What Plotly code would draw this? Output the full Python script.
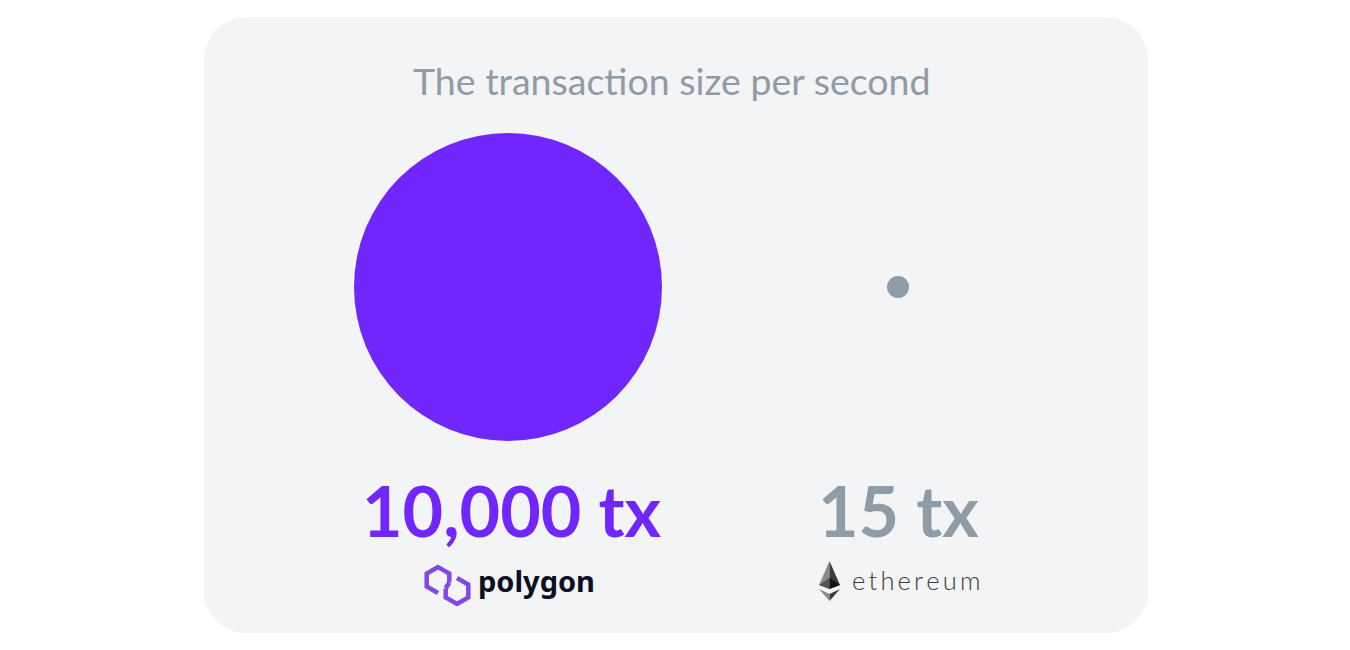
import plotly.graph_objects as go
import math

# ---- data ----
chains = ["Polygon", "Ethereum"]
tx_per_second = [10000, 15]
title_text = "The transaction size per second"
brand_words = ["polygon", "ethereum"]

# ---- styles ----
colors = ["#7026fc", "#8f9ba5"]
marker_px = [308, 22]
label_xshift = [3, 0]
CARD = "#f3f4f6"
W, H = 1350, 650

fig = go.Figure()

# dummy trace to activate pixel-unit axes (drawn first, underneath)
fig.add_trace(go.Scatter(x=[0], y=[0], mode="markers", marker=dict(opacity=0),
                         hoverinfo="skip", showlegend=False, xaxis="x", yaxis="y"))

# Main data trace (categorical axis)
fig.add_trace(go.Scatter(
    x=chains, y=[0, 0], mode="markers",
    marker=dict(size=marker_px, color=colors, line=dict(width=0), opacity=1),
    hoverinfo="skip", showlegend=False, xaxis="x2", yaxis="y2"))

def rounded_rect(x0, y0, x1, y1, r):
    k = 0.5523 * r
    return (f"M{x0+r},{y0} L{x1-r},{y0} C{x1-r+k},{y0} {x1},{y0+r-k} {x1},{y0+r} "
            f"L{x1},{y1-r} C{x1},{y1-r+k} {x1-r+k},{y1} {x1-r},{y1} "
            f"L{x0+r},{y1} C{x0+r-k},{y1} {x0},{y1-r+k} {x0},{y1-r} "
            f"L{x0},{y0+r} C{x0},{y0+r-k} {x0+r-k},{y0} {x0+r},{y0} Z")

shapes = [dict(type="path", path=rounded_rect(204, 17, 1148, 633, 42),
               xref="x", yref="y", fillcolor=CARD, line=dict(width=0), layer="below")]

# Polygon icon: two interlocked open hexagons
def hexpts(cx, cy, r):
    pts = {}
    names = ["top", "ur", "lr", "bot", "ll", "ul"]
    angs = [-90, -30, 30, 90, 150, 210]
    for n, a in zip(names, angs):
        pts[n] = (cx + r * math.cos(math.radians(a)), cy + r * math.sin(math.radians(a)))
    return pts
P = "#8247e5"
L = hexpts(438, 580, 13)
R = hexpts(457, 591, 13)
lp = [L["bot"], L["ll"], L["ul"], L["top"], L["ur"], (L["ur"][0], L["ur"][1] + 9)]
rp = [R["top"], R["ur"], R["lr"], R["bot"], R["ll"], (R["ll"][0], R["ll"][1] - 9)]
for pts in (lp, rp):
    path = "M" + " L".join(f"{x:.1f},{y:.1f}" for x, y in pts)
    shapes.append(dict(type="path", path=path, xref="x", yref="y",
                       line=dict(color=P, width=4.5), fillcolor="rgba(0,0,0,0)"))
shapes.append(dict(type="path",
                   path=f"M{L['ur'][0]:.1f},{L['ur'][1]+9:.1f} L{R['ll'][0]:.1f},{R['ll'][1]-9:.1f}",
                   xref="x", yref="y", line=dict(color=P, width=4.5)))

# Ethereum diamond
cx = 829.5
eth = [
    (f"M{cx},561 L819,585 L{cx},589 Z", "#8a8a8a"),
    (f"M{cx},561 L840,585 L{cx},589 Z", "#3c3c3c"),
    (f"M819,585 L{cx},578 L{cx},589 Z", "#555555"),
    (f"M840,585 L{cx},578 L{cx},589 Z", "#141414"),
    (f"M819,589 L{cx},601 L{cx},594 Z", "#8c8c8c"),
    (f"M840,589 L{cx},601 L{cx},594 Z", "#3c3c3b"),
]
for p, c in eth:
    shapes.append(dict(type="path", path=p, xref="x", yref="y",
                       fillcolor=c, line=dict(width=0)))

annotations = [
    dict(text=title_text, x=671, y=80, xref="x", yref="y", showarrow=False,
         font=dict(family="Lato", size=37.5, color="#8f9ba5"), xanchor="center", yanchor="middle"),
]
for name, v, c, xs in zip(chains, tx_per_second, colors, label_xshift):
    annotations.append(dict(text=f"{v:,} tx", x=name, y=1 - 510 / H, xref="x2", yref="paper",
                            showarrow=False, xanchor="center", yanchor="middle", xshift=xs,
                            font=dict(family="Lato", size=70, color=c, weight=700)))
annotations.append(dict(text=brand_words[0], x=476, y=580, xref="x", yref="y", showarrow=False,
                        xanchor="left", yanchor="middle",
                        font=dict(family="Noto Sans", size=29, color="#0b1024", weight=700)))
annotations.append(dict(text="\u2009".join(brand_words[1]), x=850, y=580, xref="x", yref="y",
                        showarrow=False, xanchor="left", yanchor="middle",
                        font=dict(family="Lato", size=25.5, color="#3a3a3a", weight=300)))

fig.update_layout(
    width=W, height=H, margin=dict(l=0, r=0, t=0, b=0),
    paper_bgcolor="white", plot_bgcolor="rgba(0,0,0,0)",
    shapes=shapes, annotations=annotations,
    xaxis=dict(domain=[0, 1], range=[0, W], visible=False, anchor="y", fixedrange=True),
    yaxis=dict(domain=[0, 1], range=[H, 0], visible=False, anchor="x", fixedrange=True),
    xaxis2=dict(domain=[313 / W, 1093 / W], range=[-0.5, 1.5], visible=False, fixedrange=True,
                anchor="y2"),
    yaxis2=dict(domain=[1 - 487 / H, 1 - 87 / H], range=[-1, 1], visible=False, fixedrange=True,
                anchor="x2"),
)

fig.write_html("out.html", config={"displayModeBar": False})
